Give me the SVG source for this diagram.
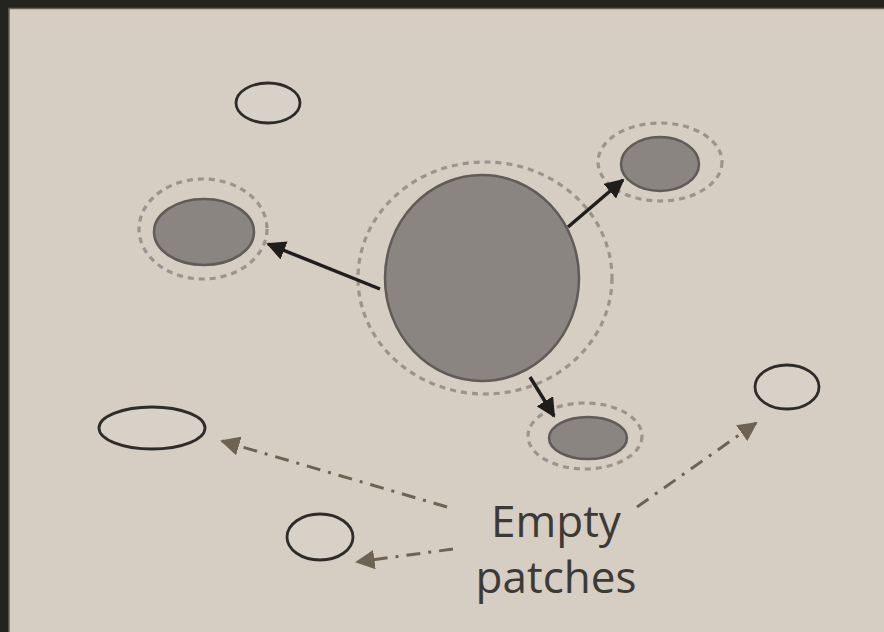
<svg xmlns="http://www.w3.org/2000/svg" width="884" height="632" viewBox="0 0 884 632">
<defs>
<style>
.cell{fill:#8a8580;stroke:#5f5b56;stroke-width:2.5}
.halo{fill:none;stroke:#9a948b;stroke-width:3.2;stroke-dasharray:6 5}
.empty{fill:#d8d1c8;stroke:#2e2c28;stroke-width:2.8}
.arrow{stroke:#1f1e1c;stroke-width:3.5;fill:none;marker-end:url(#ah)}
.ptr{stroke:#6e6353;stroke-width:3;fill:none;stroke-dasharray:14 8 3 8;marker-end:url(#ph)}
.lbl{font-family:"Open Sans","DejaVu Sans",sans-serif;font-size:44px;fill:#3c3a35;text-anchor:middle}
</style>
<marker id="ah" viewBox="0 0 10 10" refX="9" refY="5" markerWidth="5.5" markerHeight="5.5" orient="auto" markerUnits="strokeWidth">
<path d="M0,0 L10,5 L0,10 Z" fill="#1f1e1c"/>
</marker>
<marker id="ph" viewBox="0 0 10 10" refX="9" refY="5" markerWidth="6.5" markerHeight="6.5" orient="auto" markerUnits="strokeWidth">
<path d="M0,0 L10,5 L0,10 Z" fill="#6e6353"/>
</marker>
</defs>
<rect x="0" y="0" width="884" height="632" fill="#24231f"/>
<rect x="9" y="8.5" width="880" height="630" fill="#d6cdc3" stroke="#6b6150" stroke-width="1.5"/>

<g id="empty-top"><ellipse class="empty" cx="268" cy="103" rx="32" ry="20"/></g>
<g id="empty-left"><ellipse class="empty" cx="152" cy="428" rx="53" ry="21"/></g>
<g id="empty-bottom"><ellipse class="empty" cx="320" cy="537" rx="33" ry="23"/></g>
<g id="empty-right"><ellipse class="empty" cx="787" cy="387" rx="32" ry="22"/></g>

<g id="center">
<ellipse class="halo" cx="485" cy="278" rx="127" ry="116"/>
<ellipse class="cell" cx="482" cy="278" rx="97" ry="103"/>
</g>
<g id="left-cell">
<ellipse class="halo" cx="203" cy="229" rx="64" ry="50"/>
<ellipse class="cell" cx="204" cy="232" rx="50" ry="33"/>
</g>
<g id="upper-right-cell">
<ellipse class="halo" cx="660" cy="162" rx="62" ry="39"/>
<ellipse class="cell" cx="660" cy="164" rx="39" ry="27"/>
</g>
<g id="lower-cell">
<ellipse class="halo" cx="585" cy="436" rx="57" ry="33"/>
<ellipse class="cell" cx="588" cy="438" rx="39" ry="21"/>
</g>

<g id="connectors">
<line class="arrow" x1="380" y1="289" x2="268" y2="244"/>
<line class="arrow" x1="568" y1="227" x2="623" y2="180"/>
<line class="arrow" x1="530" y1="377" x2="554" y2="416"/>
<line class="ptr" x1="447" y1="507" x2="222" y2="441"/>
<line class="ptr" x1="453" y1="549" x2="357" y2="562"/>
<line class="ptr" x1="637" y1="507" x2="756" y2="423"/>
</g>

<g id="label">
<text class="lbl" x="556" y="537">Empty</text>
<text class="lbl" x="556" y="593">patches</text>
</g>
</svg>
